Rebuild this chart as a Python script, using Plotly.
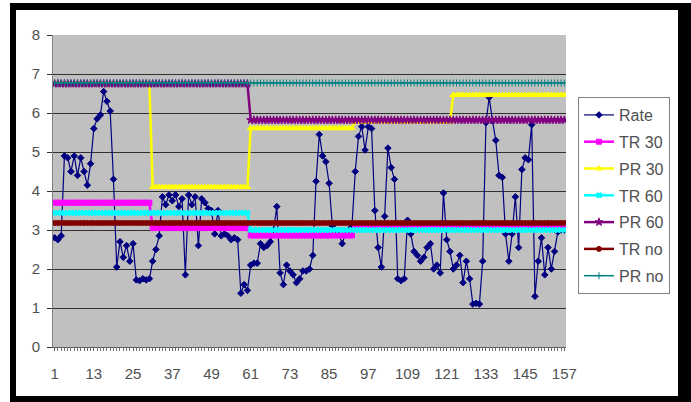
import plotly.graph_objects as go

# ---------------- data ----------------
days = list(range(1, 158))
rate = [
    2.8, 2.75, 2.85, 4.9, 4.85, 4.5, 4.9, 4.4, 4.85, 4.5,
    4.15, 4.7, 5.6, 5.85, 5.95, 6.55, 6.3, 6.05, 4.3, 2.05,
    2.7, 2.3, 2.6, 2.2, 2.65, 1.72, 1.7, 1.75, 1.72, 1.75,
    2.2, 2.5, 2.85, 3.85, 3.65, 3.9, 3.75, 3.9, 3.6, 3.8,
    1.85, 3.9, 3.65, 3.85, 2.6, 3.8, 3.7, 3.55, 3.5, 2.9,
    3.5, 2.85, 2.9, 2.85, 2.75, 2.8, 2.75, 1.38, 1.6, 1.45,
    2.1, 2.15, 2.15, 2.65, 2.55, 2.6, 2.7, 3.0, 3.6, 1.9,
    1.6, 2.1, 1.95, 1.85, 1.65, 1.75, 1.95, 1.95, 2.0, 2.35,
    4.25, 5.45, 4.9, 4.75, 4.2, 3.1, 2.95, 2.9, 2.65, 2.9,
    3.0, 3.1, 4.5, 5.4, 5.65, 5.05, 5.65, 5.6, 3.5, 2.55,
    2.05, 3.35, 5.1, 4.6, 4.3, 1.75, 1.7, 1.75, 3.25, 2.9,
    2.45, 2.35, 2.2, 2.3, 2.55, 2.65, 2.0, 2.1, 1.9, 3.95,
    2.75, 2.45, 2.0, 2.1, 2.35, 1.65, 2.2, 1.75, 1.1, 1.12,
    1.1, 2.2, 5.75, 6.4, 5.8, 5.3, 4.4, 4.35, 2.9, 2.2,
    2.9, 3.85, 2.55, 4.55, 4.85, 4.8, 5.7, 1.3, 2.2, 2.8,
    1.85, 2.55, 2.0, 2.45, 2.95, 3.0, 3.0,
]
seg30_lengths = [30, 30, 32, 30, 35]
tr30_levels = [3.70, 3.05, 2.86, 3.12, 3.10]
pr30_levels = [6.75, 4.10, 5.61, 5.78, 6.46]
seg60_lengths = [60, 97]
tr60_levels = [3.44, 3.00]
pr60_levels = [6.75, 5.82]
seg_no_lengths = [157]
tr_no_levels = [3.18]
pr_no_levels = [6.77]
x_tick_vals = [1, 13, 25, 37, 49, 61, 73, 85, 97, 109, 121, 133, 145, 157]


def expand(levels, lengths):
    out = []
    for lv, n in zip(levels, lengths):
        out += [lv] * n
    return out


tr30 = expand(tr30_levels, seg30_lengths)
pr30 = expand(pr30_levels, seg30_lengths)
tr60 = expand(tr60_levels, seg60_lengths)
pr60 = expand(pr60_levels, seg60_lengths)
tr_no = expand(tr_no_levels, seg_no_lengths)
pr_no = expand(pr_no_levels, seg_no_lengths)

FONT = "Liberation Sans, Arial, sans-serif"

fig = go.Figure()

series = [
    ("Rate", rate, "#000080", 1.2, "diamond", 5),
    ("TR 30", tr30, "#FF00FF", 2.5, "square", 5),
    ("PR 30", pr30, "#FFFF00", 2.5, "triangle-up", 6),
    ("TR 60", tr60, "#00FFFF", 2.5, "x", 5),
    ("PR 60", pr60, "#800080", 2.5, "star", 6),
    ("TR no", tr_no, "#800000", 2.5, "circle", 5),
    ("PR no", pr_no, "#008080", 1.5, "cross-thin-open", 5),
]
for i, (name, ys, col, lw, sym, ms) in enumerate(series):
    fig.add_trace(go.Scatter(
        x=days, y=ys, name=name, mode="lines+markers",
        line=dict(color=col, width=lw),
        marker=dict(color=col, symbol=sym, size=ms,
                    line=dict(color=col, width=1)),
        legendgroup=f"g{i}",
    ))

L, R, T, B = 53, 566, 35, 347
W, H = R - L, B - T


def px_x(p):
    return (p - L) / W


def px_y(p):
    return (B - p) / H


frame = [
    (10, 3, 16, 402),
    (10, 3, 691, 10),
    (678, 3, 691, 402),
    (10, 396, 691, 402),
]
shapes = []
for x0, y0, x1, y1 in frame:
    shapes.append(dict(type="rect", xref="paper", yref="paper",
                       x0=px_x(x0), x1=px_x(x1), y0=px_y(y1), y1=px_y(y0),
                       fillcolor="black", line=dict(width=0), layer="above"))

fig.update_layout(
    width=691, height=402, autosize=False,
    margin=dict(l=L, r=691 - R, t=T, b=402 - B, pad=0),
    paper_bgcolor="white",
    plot_bgcolor="#C0C0C0",
    font=dict(family=FONT, size=15, color="#505050"),
    showlegend=True,
    legend=dict(
        x=px_x(578), y=px_y(97), xanchor="left", yanchor="top",
        bgcolor="white", bordercolor="#808080", borderwidth=1,
        font=dict(family=FONT, size=16, color="#505050"),
        tracegroupgap=3, itemwidth=30,
    ),
    shapes=shapes,
    xaxis=dict(
        range=[0.5, 157.5], tickmode="array", tickvals=x_tick_vals,
        showgrid=False, zeroline=False, showline=True, linecolor="#606060",
        ticks="outside", ticklen=3, tickcolor="#606060",
        ticklabelstandoff=10,
        minor=dict(dtick=1, tick0=1, ticks="outside", ticklen=3,
                   tickcolor="#707070", showgrid=False),
        tickfont=dict(family=FONT, size=15, color="#505050"),
    ),
    yaxis=dict(
        range=[0, 8], dtick=1, showgrid=True, gridcolor="#303030", gridwidth=1,
        zeroline=False, showline=True, linecolor="#808080",
        ticks="outside", ticklen=5, tickcolor="#303030",
        ticklabelstandoff=4,
        tickfont=dict(family=FONT, size=15, color="#505050"),
    ),
)

fig.write_html(
    "out.html",
    config={"displayModeBar": False},
    post_script="document.body.style.margin='0';document.body.style.overflow='hidden';",
)
